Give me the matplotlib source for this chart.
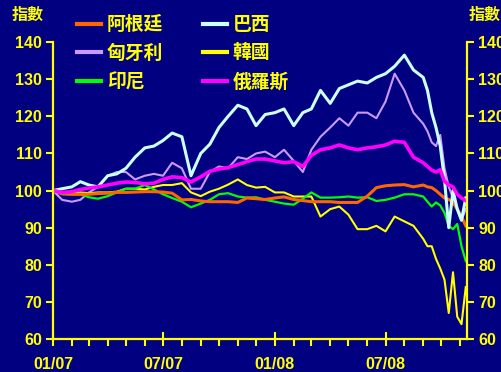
import numpy as np
import pandas as pd
import matplotlib
matplotlib.use("Agg")
import matplotlib.pyplot as plt
import matplotlib.dates as mdates

plt.rcParams['font.family'] = ['Liberation Sans', 'Noto Sans CJK TC', 'DejaVu Sans']
plt.rcParams['font.weight'] = 'bold'

# semi-monthly sampling, weekly from Sep 2008 on
dates = ['2007-01-01', '2007-01-16', '2007-02-01', '2007-02-15', '2007-03-01', '2007-03-16',
         '2007-04-01', '2007-04-16', '2007-05-01', '2007-05-16', '2007-06-01', '2007-06-16',
         '2007-07-01', '2007-07-16', '2007-08-01', '2007-08-16', '2007-09-01', '2007-09-16',
         '2007-10-01', '2007-10-16', '2007-11-01', '2007-11-16', '2007-12-01', '2007-12-16',
         '2008-01-01', '2008-01-16', '2008-02-01', '2008-02-16', '2008-03-01', '2008-03-16',
         '2008-04-01', '2008-04-16', '2008-05-01', '2008-05-16', '2008-06-01', '2008-06-16',
         '2008-07-01', '2008-07-16', '2008-08-01', '2008-08-16', '2008-09-01', '2008-09-08',
         '2008-09-15', '2008-09-22', '2008-09-29', '2008-10-06', '2008-10-13', '2008-10-20',
         '2008-10-27', '2008-11-03', '2008-11-10']

argentina = [100, 99.2, 99, 99, 99, 99.2, 99.3, 99.5, 99.5, 99.6, 99.7, 99.7,
             99.6, 99.3, 97.5, 97.6, 97.2, 97, 97, 97, 96.8, 98, 97.8, 97.6,
             98, 98.3, 97.6, 97.3, 97, 97, 97, 96.8, 96.8, 96.8, 98.5, 100.8,
             101.3, 101.5, 101.6, 101, 101.5, 101, 100.8, 100, 99, 98, 97.6, 96.8,
             95, 93, 90.5]
brazil = [100, 100.5, 101, 102.4, 101.5, 101, 104, 104.5, 106, 109, 111.5, 112,
          113.5, 115.5, 114.5, 104, 110, 112.5, 117, 120, 123, 122, 117.5, 120.5,
          121, 122, 117.5, 121, 122, 127, 123.5, 127.5, 128.5, 129.5, 129, 130.5,
          131.5, 133.5, 136.5, 132.5, 130.5, 127, 121, 117, 112, 103, 90, 100,
          95, 92, 98]
hungary = [100, 97.5, 97, 97.5, 99.5, 101, 104, 105, 105, 103, 104, 104.5,
           104, 107.5, 106, 100.5, 100.5, 105, 106.5, 106, 109, 108.5, 110, 110.5,
           109, 111, 108, 105, 111, 114.5, 117, 119.5, 117.5, 121, 121, 119.5,
           124, 131.5, 127, 121, 118, 116, 113, 112, 115, 106, 101, 98,
           95, 92, 95]
korea = [100, 99.2, 99.3, 99.5, 99.3, 99.5, 99.5, 99.7, 100.5, 100.5, 100.3, 101,
         101.5, 101.5, 102, 99.5, 98.5, 99.7, 100.5, 101.6, 103, 101.5, 100.8, 101,
         99.5, 99.5, 98.4, 98.4, 98.4, 93, 95, 95.7, 93.5, 89.6, 89.6, 90.5,
         89, 93, 91.7, 90.5, 87, 85, 85, 81.6, 79, 76, 67, 78,
         66, 64, 74]
indonesia = [100, 99, 99, 99, 98.2, 97.8, 98.5, 99.5, 100.5, 100.5, 101.5, 100.3,
             99, 98, 97, 95.5, 96.5, 97.5, 99, 99.3, 98.4, 98.1, 98.2, 97.5,
             97, 96.5, 96.2, 97.8, 99.5, 98.1, 98.1, 98.2, 98.4, 98.1, 98.2, 97.2,
             97.5, 98.1, 99, 99, 98.4, 97, 95.7, 96.8, 96, 94, 90.5, 89.6,
             91, 85, 81]
russia = [100, 99.5, 99.7, 100.3, 100.7, 101, 101.5, 102, 102.3, 102.2, 101.8, 102,
          103, 103.7, 103.5, 102.3, 103.7, 105.2, 105.8, 106.2, 107, 107.8, 108.5, 108.5,
          108, 107.5, 107.8, 106.5, 109.5, 111, 111.5, 112.3, 111.5, 111, 111.5, 111.8,
          112.3, 113.3, 113, 109, 107.5, 106.5, 105.5, 105, 105.6, 102.5, 101.5, 101,
          99, 98, 97.3]

yticks = [60, 70, 80, 90, 100, 110, 120, 130, 140]

navy = '#000080'
yellow = '#FFFF00'

t = pd.to_datetime(dates)

fig = plt.figure(figsize=(5.01, 3.72), dpi=100, facecolor=navy)
ax = fig.add_axes([0.1058, 0.0887, 0.8263, 0.798], facecolor=navy)

h_hun, = ax.plot(t, hungary, color='#CC99FF', lw=1.5, label='匈牙利')
h_kor, = ax.plot(t, korea, color='#FFFF00', lw=1.5, label='韓國')
h_ind, = ax.plot(t, indonesia, color='#00FF00', lw=1.6, label='印尼')
h_arg, = ax.plot(t, argentina, color='#FF6600', lw=2.2, label='阿根廷')
h_bra, = ax.plot(t, brazil, color='#CCFFFF', lw=2.2, label='巴西')
h_rus, = ax.plot(t, russia, color='#FF00FF', lw=2.6, label='俄羅斯')

ax.set_xlim(pd.Timestamp('2007-01-01'), pd.Timestamp('2008-11-12'))
ax.set_ylim(60, 140)
ax.set_yticks(yticks)

ax.xaxis.set_major_locator(mdates.MonthLocator(bymonth=[1, 7]))
ax.xaxis.set_minor_locator(mdates.MonthLocator())
ax.xaxis.set_major_formatter(mdates.DateFormatter('%m/%y'))

for side in ['left', 'right', 'bottom']:
    ax.spines[side].set_color(yellow)
    ax.spines[side].set_linewidth(1.6)
ax.spines['top'].set_visible(False)

ax.tick_params(axis='y', which='both', direction='out', length=5, width=1.5,
               color=yellow, labelcolor=yellow, labelsize=11.5,
               left=True, right=True, labelleft=True, labelright=True, pad=3)
ax.tick_params(axis='x', which='major', direction='inout', length=10, width=1.5,
               color=yellow, labelcolor=yellow, labelsize=11.5, pad=8)
ax.tick_params(axis='x', which='minor', direction='out', length=5, width=1.5,
               color=yellow)

fig.text(0.056, 0.958, '指數', color=yellow, fontsize=11.5, ha='center', va='center')
fig.text(0.968, 0.958, '指數', color=yellow, fontsize=11.5, ha='center', va='center')

leg = ax.legend(handles=[h_arg, h_hun, h_ind, h_bra, h_kor, h_rus], ncol=2,
                loc='upper left', bbox_to_anchor=(0.04, 1.113), frameon=False,
                fontsize=13.5, handlelength=1.3, handletextpad=0.3,
                columnspacing=2.1, labelspacing=0.55, borderaxespad=0)
for txt in leg.get_texts():
    txt.set_color(yellow)
for line in leg.get_lines():
    line.set_linewidth(3)

fig.savefig('out.png', dpi=100, facecolor=navy)
